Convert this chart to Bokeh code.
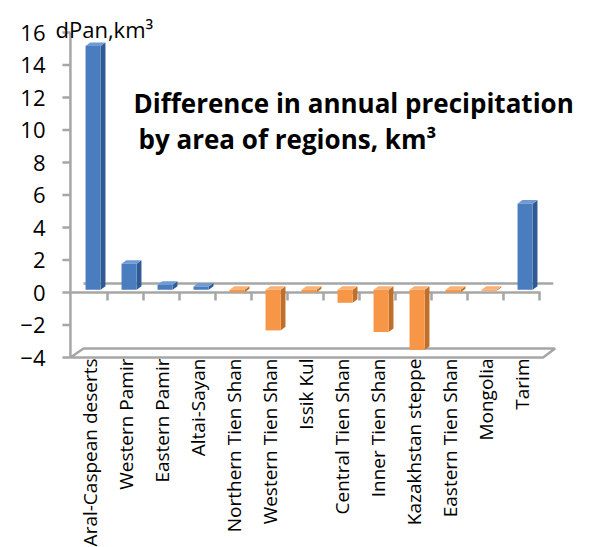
import math
from bokeh.plotting import figure
from bokeh.models import Range1d, FixedTicker
from bokeh.core.properties import value
from bokeh.embed import file_html
from bokeh.resources import INLINE

# ---- data -------------------------------------------------------------
regions = [
    "Aral-Caspean deserts", "Western Pamir", "Eastern Pamir", "Altai-Sayan",
    "Northern Tien Shan", "Western Tien Shan", "Issik Kul", "Central Tien Shan",
    "Inner Tien Shan", "Kazakhstan steppe", "Eastern Tien Shan", "Mongolia", "Tarim",
]
d_pan = [15.0, 1.6, 0.3, 0.2, -0.15, -2.5, -0.15, -0.8, -2.6, -3.7, -0.15, -0.06, 5.3]
y_ticks = [-4, -2, 0, 2, 4, 6, 8, 10, 12, 14, 16]

# ---- styling / pseudo-3D geometry --------------------------------------
FONT = "Open Sans"
GRID_GRAY = "#A6A6A6"
POS = dict(front="#4A7DBE", side="#2F5A93", top="#6F9AD3")
NEG = dict(front="#F79646", side="#C06F2B", top="#FAB277")

PX_X = 36.0      # pixels per category
PX_Y = 16.25     # pixels per unit
DX = 12 / PX_X   # depth vector (full depth) in data units
DY = 9 / PX_Y
D0, D1 = 0.3, 0.7  # bar front / back depth
BAR_W = 0.42
AXIS_X = -0.03
n = len(regions)
y_lo, y_hi = min(y_ticks), max(y_ticks)

p = figure(
    width=598, height=547, output_backend="svg", toolbar_location=None,
    x_range=Range1d(-21 / PX_X, 527 / PX_X),
    y_range=Range1d(y_lo - 190 / PX_Y, y_hi + 30 / PX_Y),
    min_border_left=50, min_border_right=0, min_border_top=2, min_border_bottom=0,
)
p.xgrid.visible = False
p.ygrid.visible = False
p.xaxis.visible = False
p.outline_line_color = None
p.background_fill_color = "white"
p.border_fill_color = "white"

# left axis: labels only, the line and ticks are drawn below as glyphs
ya = p.yaxis[0]
ya.ticker = FixedTicker(ticks=y_ticks)
ya.axis_line_color = None
ya.major_tick_line_color = None
ya.minor_tick_line_color = None
ya.major_tick_out = 0
ya.major_tick_in = 0
ya.minor_tick_out = 0
ya.minor_tick_in = 0
ya.major_label_text_font = FONT
ya.major_label_text_font_size = "22px"
ya.major_label_text_color = "black"
ya.major_label_standoff = 5

# floor at the bottom of the value axis
p.patch([AXIS_X, n + 0.1, n + 0.1 + DX, DX, AXIS_X],
        [y_lo, y_lo, y_lo + DY, y_lo + DY, y_lo],
        fill_color="white", line_color=GRID_GRAY, line_width=2.5)

# vertical value axis and its ticks
tick_len = 8 / PX_X
p.segment(x0=[AXIS_X], y0=[y_lo], x1=[AXIS_X], y1=[y_hi], line_color=GRID_GRAY, line_width=2.5)
p.segment(x0=[AXIS_X - tick_len] * len(y_ticks), y0=y_ticks, x1=[AXIS_X] * len(y_ticks), y1=y_ticks,
          line_color=GRID_GRAY, line_width=2.5)

# zero plane: back edge, front edge and category separators
p.segment(x0=[DX], y0=[DY], x1=[n + DX + 0.05], y1=[DY], line_color=GRID_GRAY, line_width=2.5)
p.segment(x0=[AXIS_X], y0=[0], x1=[n + 0.03], y1=[0], line_color=GRID_GRAY, line_width=2.5)
p.segment(x0=list(range(1, n + 1)), y0=[0] * n, x1=list(range(1, n + 1)), y1=[-8 / PX_Y] * n,
          line_color=GRID_GRAY, line_width=2.5)

# bars as boxes: front face, right side, top
front_l, front_r, front_b, front_t, front_c = [], [], [], [], []
side_xs, side_ys, side_c = [], [], []
top_xs, top_ys, top_c = [], [], []
for i, v in enumerate(d_pan):
    col = POS if v >= 0 else NEG
    lo, hi = min(0.0, v), max(0.0, v)
    xl = i + 0.5 - BAR_W / 2
    xr = i + 0.5 + BAR_W / 2
    fx, fy = D0 * DX, D0 * DY
    bx, by = D1 * DX, D1 * DY
    front_l.append(xl + fx); front_r.append(xr + fx)
    front_b.append(lo + fy); front_t.append(hi + fy)
    front_c.append(col["front"])
    side_xs.append([xr + fx, xr + bx, xr + bx, xr + fx])
    side_ys.append([lo + fy, lo + by, hi + by, hi + fy])
    side_c.append(col["side"])
    top_xs.append([xl + fx, xr + fx, xr + bx, xl + bx])
    top_ys.append([hi + fy, hi + fy, hi + by, hi + by])
    top_c.append(col["top"])

p.patches(side_xs, side_ys, fill_color=side_c, line_color=None)
p.patches(top_xs, top_ys, fill_color=top_c, line_color=None)
p.quad(left=front_l, right=front_r, bottom=front_b, top=front_t,
       fill_color=front_c, line_color=None)

# region names, rotated and hanging below the floor
p.text(x=[i + 0.5 for i in range(n)], y=[y_lo - 1 / PX_Y] * n, text=regions,
       angle=math.pi / 2, text_font=value(FONT), text_font_size="19px",
       text_color="black", text_align="right", text_baseline="middle")

# unit label and chart title
p.text(x=[-16 / PX_X], y=[y_hi + 4 / PX_Y], text=["dPan,km³"],
       text_font=value(FONT), text_font_size="22px", text_color="black",
       text_baseline="alphabetic", text_align="left")
p.text(x=[62 / PX_X], y=[y_hi - 70 / PX_Y], text=["Difference in annual precipitation"],
       text_font=value(FONT), text_font_size="26px", text_font_style="bold",
       text_color="black", text_baseline="alphabetic", text_align="left")
p.text(x=[67 / PX_X], y=[y_hi - 106 / PX_Y], text=["by area of regions, km³"],
       text_font=value(FONT), text_font_size="26px", text_font_style="bold",
       text_color="black", text_baseline="alphabetic", text_align="left")

open("out.html", "w").write(file_html(p, INLINE))
